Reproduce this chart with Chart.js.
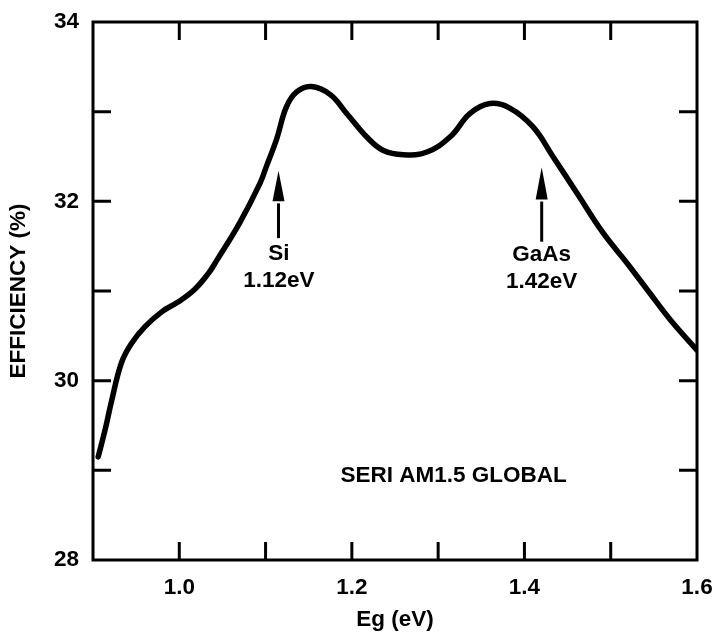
<!DOCTYPE html>
<html><head><meta charset="utf-8">
<script src="https://cdn.jsdelivr.net/npm/chart.js@4"></script>
<style>html,body{margin:0;padding:0;background:#fff}canvas{display:block}</style>
</head><body>
<canvas id="c" width="719" height="640"></canvas>
<script>
// Band gap (eV)
const energies = [0.906, 0.914, 0.9217, 0.933, 0.945, 0.960, 0.980, 0.999, 1.018, 1.034, 1.044, 1.070, 1.0935, 1.101, 1.113, 1.124, 1.136, 1.153, 1.175, 1.194, 1.217, 1.236, 1.260, 1.287, 1.314, 1.337, 1.360, 1.383, 1.410, 1.433, 1.461, 1.491, 1.519, 1.545, 1.569, 1.600];
// Efficiency (%)
const efficiency = [29.15, 29.45, 29.78, 30.20, 30.42, 30.60, 30.77, 30.88, 31.02, 31.20, 31.35, 31.76, 32.20, 32.39, 32.70, 33.05, 33.22, 33.28, 33.19, 32.98, 32.72, 32.57, 32.52, 32.55, 32.72, 32.98, 33.09, 33.04, 32.83, 32.50, 32.09, 31.65, 31.31, 30.98, 30.68, 30.34];
const xTickLabels = ['1.0', '1.2', '1.4', '1.6'];
const yTickLabels = ['28', '30', '32', '34'];
const markerLabels = [['Si', '1.12eV'], ['GaAs', '1.42eV']];
const noteText = 'SERI AM1.5 GLOBAL';

const FONT = '"Liberation Sans", Arial, sans-serif';
const FS = 22.5;

const framePlugin = {
  id: 'frame',
  afterDraw(chart, args, opts) {
    const {ctx, chartArea: a, scales: {x, y}} = chart;
    ctx.save();
    ctx.strokeStyle = '#000';
    ctx.fillStyle = '#000';
    ctx.lineWidth = 3;
    ctx.strokeRect(a.left, a.top, a.right - a.left, a.bottom - a.top);
    const L = 18;
    ctx.beginPath();
    x.ticks.forEach(t => {
      const px = x.getPixelForValue(t.value);
      if (px <= a.left + 2 || px >= a.right - 2) return;
      ctx.moveTo(px, a.bottom); ctx.lineTo(px, a.bottom - L);
      ctx.moveTo(px, a.top); ctx.lineTo(px, a.top + L);
    });
    y.ticks.forEach(t => {
      const py = y.getPixelForValue(t.value);
      if (py <= a.top + 2 || py >= a.bottom - 2) return;
      ctx.moveTo(a.left, py); ctx.lineTo(a.left + L, py);
      ctx.moveTo(a.right, py); ctx.lineTo(a.right - L, py);
    });
    ctx.stroke();

    // arrows + labels
    ctx.font = 'bold ' + FS + 'px ' + FONT;
    ctx.textAlign = 'center';
    ctx.textBaseline = 'middle';
    opts.markers.forEach((m, i) => {
      const px = x.getPixelForValue(m.at);
      const tip = y.getPixelForValue(m.tip);
      const base = y.getPixelForValue(m.base);
      const tail = y.getPixelForValue(m.tail);
      ctx.lineWidth = 3;
      ctx.beginPath(); ctx.moveTo(px, tail); ctx.lineTo(px, base + 2); ctx.stroke();
      ctx.beginPath(); ctx.moveTo(px, tip); ctx.lineTo(px - 6, base); ctx.lineTo(px + 6, base); ctx.closePath(); ctx.fill();
      ctx.fillText(markerLabels[i][0], x.getPixelForValue(m.textAt), y.getPixelForValue(m.line1));
      ctx.fillText(markerLabels[i][1], x.getPixelForValue(m.textAt), y.getPixelForValue(m.line2));
    });
    ctx.fillText(noteText, x.getPixelForValue(opts.note.x), y.getPixelForValue(opts.note.y));
    ctx.restore();
  }
};

new Chart(document.getElementById('c'), {
  type: 'scatter',
  data: {
    datasets: [{
      data: energies.map((e, i) => ({x: e, y: efficiency[i]})),
      showLine: true,
      borderColor: '#000',
      borderWidth: 5.5,
      pointRadius: 0,
      tension: 0.4,
      borderCapStyle: 'round',
      borderJoinStyle: 'round'
    }]
  },
  options: {
    responsive: false,
    animation: false,
    devicePixelRatio: 1,
    layout: {padding: {top: 22, right: 22, left: 0, bottom: 0}},
    plugins: {
      legend: {display: false},
      tooltip: {enabled: false},
      frame: {
        markers: [
          {at: 1.115, tip: 32.34, base: 32.0, tail: 31.59, textAt: 1.1155, line1: 31.41, line2: 31.11},
          {at: 1.42, tip: 32.38, base: 32.02, tail: 31.55, textAt: 1.42, line1: 31.40, line2: 31.10}
        ],
        note: {x: 1.318, y: 28.94}
      }
    },
    scales: {
      x: {
        type: 'linear', min: 0.9, max: 1.6,
        grid: {display: false, drawTicks: false},
        border: {display: false},
        ticks: {
          stepSize: 0.1, padding: 14, color: '#000', maxRotation: 0, autoSkip: false,
          font: {family: FONT, size: FS, weight: 'bold'},
          callback: v => { const s = Number(v).toFixed(1); return xTickLabels.includes(s) ? s : ''; }
        },
        title: {display: true, text: 'Eg (eV)', color: '#000', font: {family: FONT, size: FS, weight: 'bold'}, padding: {top: 0, bottom: 7}},
        afterFit: s => { s.height = 80; s.paddingLeft = 0; s.paddingRight = 0; }
      },
      y: {
        type: 'linear', min: 28, max: 34,
        grid: {display: false, drawTicks: false},
        border: {display: false},
        ticks: {
          stepSize: 1, padding: 14, color: '#000',
          font: {family: FONT, size: FS, weight: 'bold'},
          callback: v => { const s = String(Math.round(v)); return yTickLabels.includes(s) ? s : ''; }
        },
        title: {display: true, text: 'EFFICIENCY (%)', color: '#000', font: {family: FONT, size: FS, weight: 'bold'}, padding: {top: 5, bottom: 0}},
        afterFit: s => { s.width = 93; s.paddingTop = 0; s.paddingBottom = 0; }
      }
    }
  },
  plugins: [framePlugin]
});
</script>
</body></html>
